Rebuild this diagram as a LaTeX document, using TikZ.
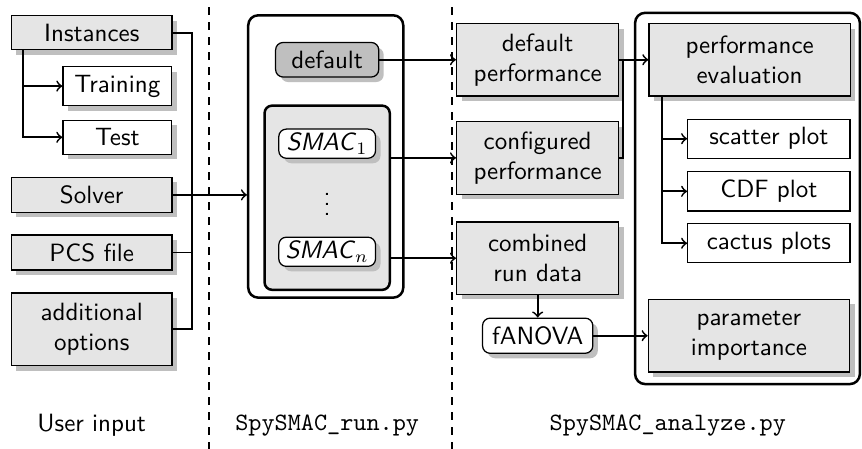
\documentclass[tikz,border=0pt]{standalone}
\usepackage{amsmath}
\usepackage{tikz}
\usetikzlibrary{shadows}

\begin{document}
\begin{tikzpicture}[font=\sffamily,
	inbox/.style={shape=rectangle, draw=black, line width=0.5pt, fill=black!10, minimum width=2.26cm, drop shadow={shadow xshift=2pt, shadow yshift=-2pt, fill=black!25, opacity=1}},
	subbox/.style={inbox, fill=white},
	plainbox/.style={shape=rectangle, draw=black, line width=0.5pt, fill=white, minimum width=2.28cm},
	twoline/.style={align=center, minimum height=29pt},
	rbox/.style={subbox, rounded corners=3pt},
	outerbox/.style={shape=rectangle, draw=black, line width=1pt, fill=white, rounded corners=4pt},
	conn/.style={line width=0.7pt}]

	\useasboundingbox (0, 0) rectangle (12.12, -6.31);

	% user input
	\node[inbox] (inst) at (1.29, -0.46) {Instances};
	\node[subbox, minimum width=1.53cm] (train) at (1.65, -1.21) {Training};
	\node[subbox, minimum width=1.53cm] (test) at (1.65, -1.93) {Test};
	\node[inbox] (solver) at (1.29, -2.74) {Solver};
	\node[inbox] (pcs) at (1.29, -3.55) {PCS file};
	\node[inbox, twoline] (opts) at (1.29, -4.63) {additional\\options};

	% SpySMAC_run
	\node[outerbox, minimum width=2.18cm, minimum height=3.97cm] (run) at (4.58, -2.20) {};
	\node[rbox, fill=black!25, minimum width=1.45cm] (default) at (4.60, -0.84) {default};
	\node[outerbox, fill=black!10, rounded corners=3pt, minimum width=1.76cm, minimum height=2.59cm] (smacs) at (4.60, -2.78) {};
	\node[rbox, inner sep=1.5pt, minimum width=1.36cm, minimum height=10.8pt] (smac1) at (4.60, -2.02) {\textit{SMAC}$_1$};
	\node (dots) at (4.60, -2.77) {$\vdots$};
	\node[rbox, inner sep=1.5pt, minimum width=1.36cm, minimum height=10.8pt] (smacn) at (4.60, -3.54) {\textit{SMAC}$_n$};

	% SpySMAC_analyze
	\node[outerbox, minimum width=3.16cm, minimum height=5.22cm] (ana) at (10.51, -2.79) {};
	\node[inbox, twoline, minimum width=2.28cm] (defperf) at (7.56, -0.84) {default\\performance};
	\node[inbox, twoline, minimum width=2.28cm] (conf) at (7.56, -2.22) {configured\\performance};
	\node[inbox, twoline, minimum width=2.28cm] (comb) at (7.56, -3.63) {combined\\run data};
	\node[rbox, minimum width=1.55cm] (fanova) at (7.56, -4.72) {fANOVA};
	\node[inbox, twoline, minimum width=2.83cm] (perf) at (10.54, -0.84) {performance\\evaluation};
	\node[plainbox] (scatter) at (10.81, -1.95) {scatter plot};
	\node[plainbox] (cdf) at (10.81, -2.69) {CDF plot};
	\node[plainbox] (cactus) at (10.81, -3.42) {cactus plots};
	\node[inbox, twoline, minimum width=2.83cm] (param) at (10.53, -4.72) {parameter\\importance};

	% labels
	\node (lin) at (1.29, -5.98) {User input};
	\node (lrun) at (4.60, -5.98) {\texttt{SpySMAC\_run.py}};
	\node (lana) at (9.39, -5.98) {\texttt{SpySMAC\_analyze.py}};

	% separators
	\coordinate (s1t) at (2.94, -0.10);
	\coordinate (s1b) at (2.94, -6.31);
	\coordinate (s2t) at (6.36, -0.10);
	\coordinate (s2b) at (6.36, -6.31);
	\draw[conn, dashed] (s1t) -- (s1b);
	\draw[conn, dashed] (s2t) -- (s2b);

	% junctions
	\coordinate (jin) at (2.70, -2.74);
	\coordinate (jib) at (0.32, 0);
	\coordinate (jperf) at (8.76, 0);
	\coordinate (jpe) at (9.31, 0);

	\draw[conn, ->] (inst.south -| jib) |- (train.west);
	\draw[conn, ->] (inst.south -| jib) |- (test.west);
	\draw[conn] (inst.east) -| (jin);
	\draw[conn] (pcs.east) -| (jin);
	\draw[conn] (opts.east) -| (jin);
	\draw[conn, ->] (solver.east) -- (solver.east -| run.west);

	\draw[conn, ->] (default.east) -- (default.east -| defperf.west);
	\draw[conn, ->] (smacs.east |- conf.west) -- (conf.west);
	\draw[conn, ->] (smacs.east |- comb.west) -- (comb.west);

	\draw[conn, ->] (defperf.east) -- (perf.west);
	\draw[conn] (conf.east) -| (defperf.east -| jperf);
	\draw[conn, ->] (perf.south -| jpe) |- (scatter.west);
	\draw[conn, ->] (perf.south -| jpe) |- (cdf.west);
	\draw[conn, ->] (perf.south -| jpe) |- (cactus.west);

	\draw[conn, ->] (comb.south) -- (fanova.north);
	\draw[conn, ->] (fanova.east) -- (param.west);

\end{tikzpicture}
\end{document}
